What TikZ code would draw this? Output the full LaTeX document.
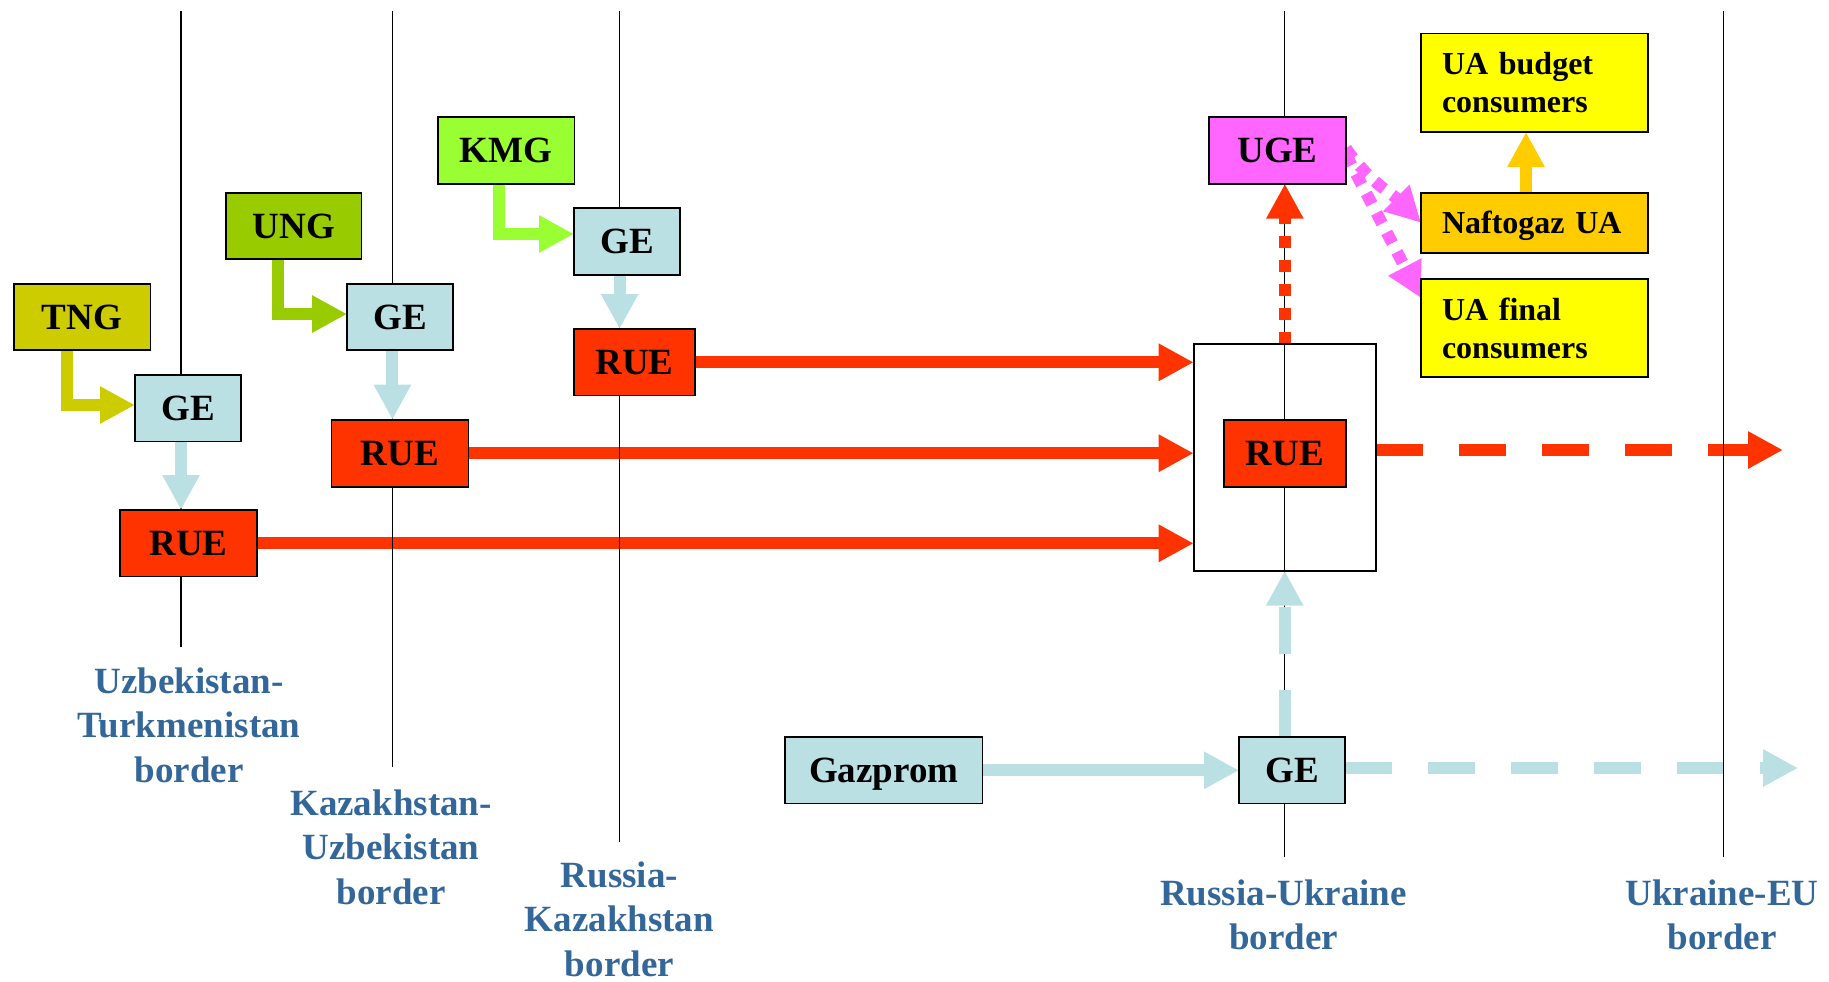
\documentclass[tikz,border=0pt]{standalone}
\usepackage{fontspec}
\setmainfont{Liberation Serif}
\usetikzlibrary{arrows.meta,calc}
\definecolor{cTNG}{HTML}{CCCC00}
\definecolor{cUNG}{HTML}{99CC00}
\definecolor{cKMG}{HTML}{99FF33}
\definecolor{cGE}{HTML}{BBE0E3}
\definecolor{cRed}{HTML}{FF3300}
\definecolor{cUGE}{HTML}{FF66FF}
\definecolor{cNaf}{HTML}{FFCC00}
\definecolor{cYel}{HTML}{FFFF00}
\definecolor{cLab}{HTML}{336699}
\pgfdeclarelayer{bg}
\pgfdeclarelayer{mid}
\pgfsetlayers{bg,mid,main}
\begin{document}
\begin{tikzpicture}[x=0.5pt,y=-0.5pt,
  box/.style={draw=black, line width=0.8pt, inner sep=0pt, outer sep=0pt, text depth=0pt,
    font=\fontsize{18.5}{20}\selectfont\bfseries},
  cbox/.style={draw=black, line width=0.8pt, inner xsep=10.5pt, inner ysep=0pt, outer sep=0pt,
    text width=92.5pt, align=left, font=\fontsize{16}{19}\selectfont\bfseries},
  lab/.style={text=cLab, align=center, font=\fontsize{18.5}{22.25}\selectfont\bfseries},
  border/.style={line width=0.6pt, draw=black},
  arr/.style={line width=6pt, -{Triangle[length=17.5pt,width=17.5pt]}},
  longdash/.style={dash pattern=on 23.5pt off 18pt},
  dotty/.style={dash pattern=on 6pt off 6pt}]
\useasboundingbox (0,0) rectangle (1829,981);

% border line coordinates
\coordinate (l1t) at (181,11);   \coordinate (l1b) at (181,647);
\coordinate (l2t) at (392.4,11); \coordinate (l2b) at (392.4,767);
\coordinate (l3t) at (619.6,11); \coordinate (l3b) at (619.6,842);
\coordinate (l4t) at (1284.7,11);\coordinate (l4b) at (1284.7,857);
\coordinate (l5t) at (1723.5,11);\coordinate (l5b) at (1723.5,857);
\coordinate (redEnd) at (1783,450);
\coordinate (blueEnd) at (1798,768);

% boxes
\node[box, fill=cTNG, minimum width=68.3pt, minimum height=33pt] (tng) at (82,317) {TNG};
\node[box, fill=cGE, minimum width=53pt, minimum height=33.3pt] (geT) at (188,408) {GE};
\node[box, fill=cRed, minimum width=68.5pt, minimum height=33.3pt] (rueT) at (188.5,543.3) {RUE};
\node[box, fill=cUNG, minimum width=67.8pt, minimum height=33pt] (ung) at (293.8,226) {UNG};
\node[box, fill=cGE, minimum width=52.9pt, minimum height=33pt] (geU) at (400,317) {GE};
\node[box, fill=cRed, minimum width=68.5pt, minimum height=33.5pt] (rueU) at (400,453.2) {RUE};
\node[box, fill=cKMG, minimum width=68.3pt, minimum height=33.5pt] (kmg) at (506,150.5) {KMG};
\node[box, fill=cGE, minimum width=53pt, minimum height=33.5pt] (geK) at (627,241.5) {GE};
\node[box, fill=cRed, minimum width=60.5pt, minimum height=33.3pt] (rueK) at (634.5,362.3) {RUE};
\node[box, fill=cUGE, minimum width=68.4pt, minimum height=33.3pt] (uge) at (1277.5,150.4) {UGE};
\node[draw=black, line width=0.8pt, inner sep=0pt, outer sep=0pt, minimum width=91.15pt, minimum height=113.35pt] (big) at (1284.85,457.35) {};
\node[box, fill=cRed, minimum width=60.9pt, minimum height=33.5pt] (rueC) at (1285,453.2) {RUE};
\node[box, fill=cGE, minimum width=98.9pt, minimum height=33.3pt] (gaz) at (883.7,770.3) {Gazprom};
\node[box, fill=cGE, minimum width=53pt, minimum height=33.3pt] (geB) at (1292,770.3) {GE};
\node[cbox, fill=cYel, minimum height=49.3pt] (budget) at (1534.5,82.7) {UA budget\\consumers};
\node[cbox, fill=cNaf, minimum height=30pt, text depth=0pt] (naft) at (1534.5,222.7) {\mbox{Naftogaz UA}};
\node[cbox, fill=cYel, minimum height=49pt] (final) at (1534.5,328) {UA final\\consumers};

% labels
\node[lab] (lab1) at (189,725) {Uzbekistan-\\Turkmenistan\\border};
\node[lab] (lab2) at (391,847) {Kazakhstan-\\Uzbekistan\\border};
\node[lab] (lab3) at (619.4,919) {Russia-\\Kazakhstan\\border};
\node[lab] (lab4) at (1283.5,915) {Russia-Ukraine\\border};
\node[lab] (lab5) at (1722,915) {Ukraine-EU\\border};

% horizontal arrows (below border lines)
\begin{pgfonlayer}{bg}
\draw[arr, cRed] (rueK.east) -- (rueK.east -| big.west);
\draw[arr, cRed] (rueU.east) -- (rueU.east -| big.west);
\draw[arr, cRed] (rueT.east) -- (rueT.east -| big.west);
\draw[arr, cRed, longdash] (big.east |- redEnd) -- (redEnd);
\draw[arr, cGE] (gaz.east) -- (geB.west);
\draw[arr, cGE, longdash] (geB.east |- blueEnd) -- (blueEnd);
\draw[arr, cTNG, line join=miter] ([xshift=-7.5pt]tng.south) |- ([yshift=1.5pt]geT.west);
\draw[arr, cUNG, line join=miter] ([xshift=-8pt]ung.south) |- ([yshift=1.5pt]geU.west);
\draw[arr, cKMG, line join=miter] ([xshift=-3.5pt]kmg.south) |- ([yshift=3.75pt]geK.west);
\draw[arr, cNaf] ([xshift=-4.25pt]naft.north) -- ([xshift=-4.25pt]budget.south);
\draw[arr, cUGE, dash pattern=on 6pt off 5pt] ([yshift=1pt]uge.east) to[out=-55,in=135] (naft.west);
\draw[arr, cUGE, dash pattern=on 6pt off 5pt] ([yshift=-2pt]uge.east) -- ([yshift=-9.5pt]final.north west);
\end{pgfonlayer}

% border lines and vertical arrows
\begin{pgfonlayer}{mid}
\draw[border] (l1t) -- (l1b);
\draw[border] (l2t) -- (l2b);
\draw[border] (l3t) -- (l3b);
\draw[border] (l4t) -- (l4b);
\draw[border] (l5t) -- (l5b);
\draw[arr, cGE] (geT.south -| l1t) -- (rueT.north -| l1t);
\draw[arr, cGE] (geU.south -| l2t) -- (rueU.north -| l2t);
\draw[arr, cGE] (geK.south -| l3t) -- (rueK.north -| l3t);
\draw[arr, cRed, dotty] (big.north) -- (big.north |- uge.south);
\draw[arr, cGE, longdash] (geB.north -| l4t) -- (big.south -| l4t);
\end{pgfonlayer}
\end{tikzpicture}
\end{document}
